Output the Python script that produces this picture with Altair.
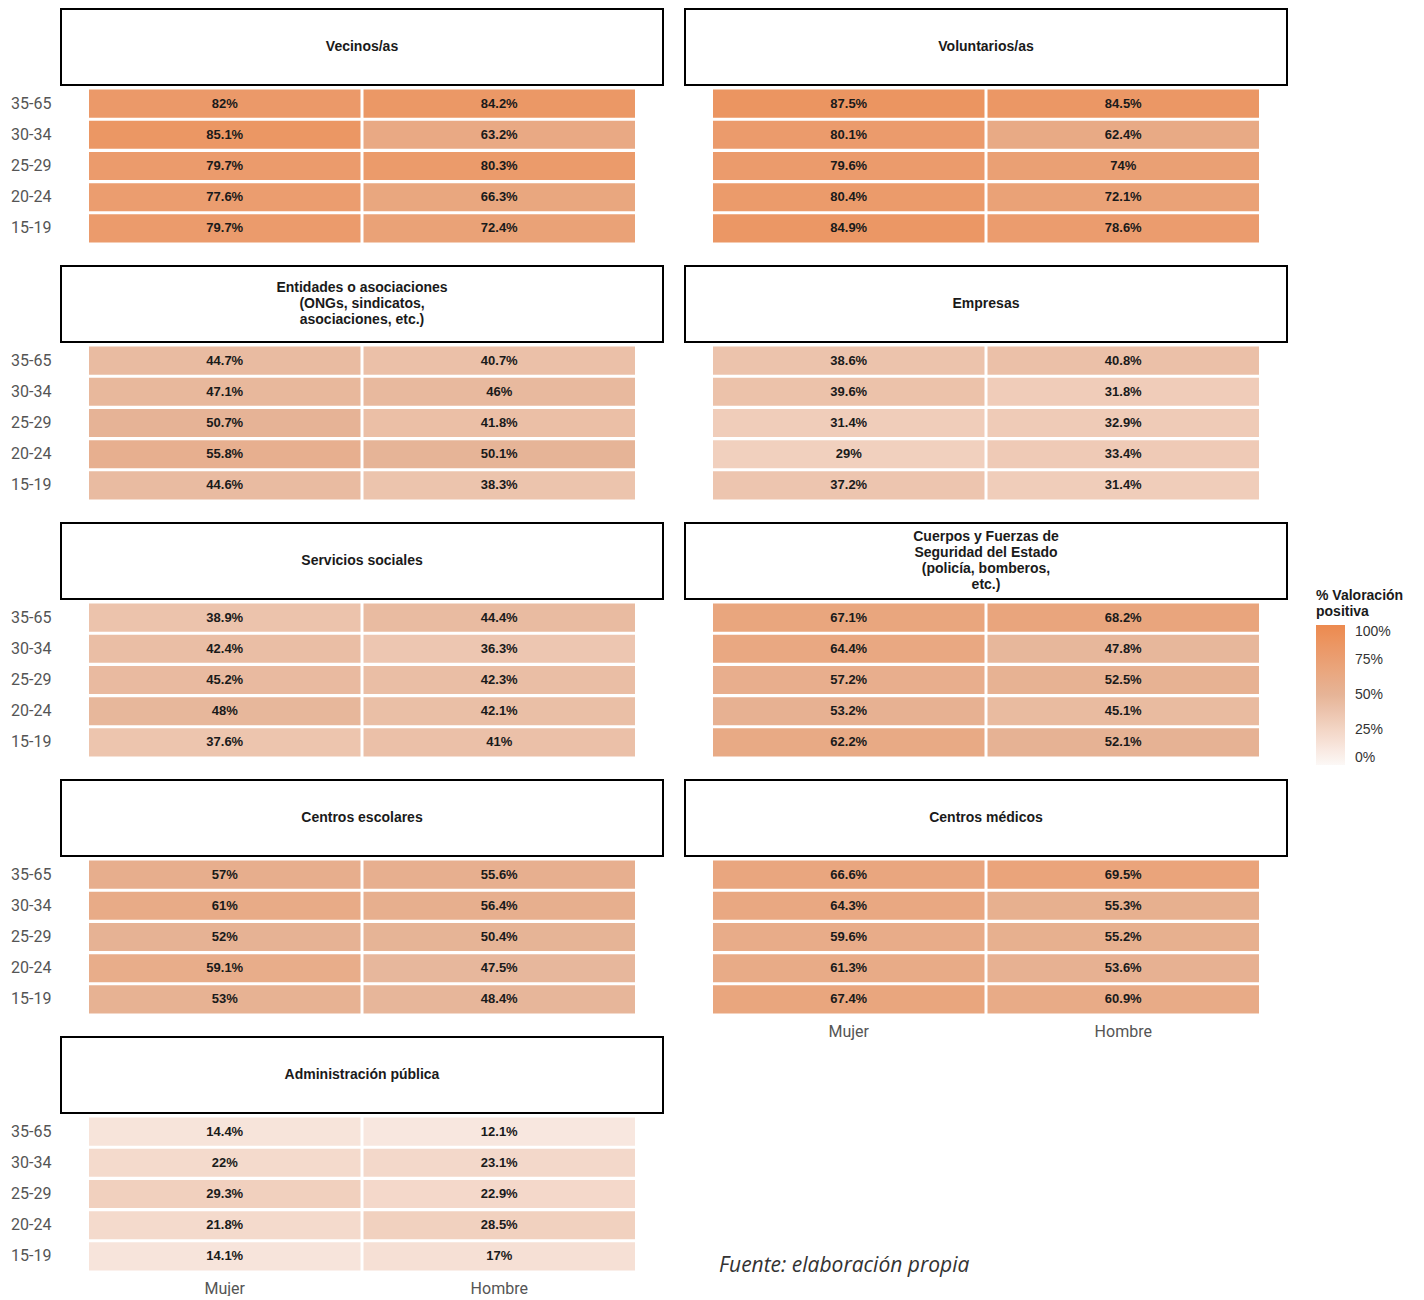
import altair as alt
import pandas as pd

# ---------------- data ----------------
ages = ["35-65", "30-34", "25-29", "20-24", "15-19"]
sexes = ["Mujer", "Hombre"]

titles = [
    "Vecinos/as",
    "Voluntarios/as",
    "Entidades o asociaciones\n(ONGs, sindicatos,\nasociaciones, etc.)",
    "Empresas",
    "Servicios sociales",
    "Cuerpos y Fuerzas de\nSeguridad del Estado\n(policía, bomberos,\netc.)",
    "Centros escolares",
    "Centros médicos",
    "Administración pública",
]

# values ordered as ages (35-65 ... 15-19)
mujer = [
    [82, 85.1, 79.7, 77.6, 79.7],
    [87.5, 80.1, 79.6, 80.4, 84.9],
    [44.7, 47.1, 50.7, 55.8, 44.6],
    [38.6, 39.6, 31.4, 29, 37.2],
    [38.9, 42.4, 45.2, 48, 37.6],
    [67.1, 64.4, 57.2, 53.2, 62.2],
    [57, 61, 52, 59.1, 53],
    [66.6, 64.3, 59.6, 61.3, 67.4],
    [14.4, 22, 29.3, 21.8, 14.1],
]
hombre = [
    [84.2, 63.2, 80.3, 66.3, 72.4],
    [84.5, 62.4, 74, 72.1, 78.6],
    [40.7, 46, 41.8, 50.1, 38.3],
    [40.8, 31.8, 32.9, 33.4, 31.4],
    [44.4, 36.3, 42.3, 42.1, 41],
    [68.2, 47.8, 52.5, 45.1, 52.1],
    [55.6, 56.4, 50.4, 47.5, 48.4],
    [69.5, 55.3, 55.2, 53.6, 60.9],
    [12.1, 23.1, 22.9, 28.5, 17],
]

legend_values = [0, 25, 50, 75, 100]
legend_title = ["% Valoración", "positiva"]
source_text = "Fuente: elaboración propia"

# ---------------- styling ----------------
COLOR_DOMAIN = [0, 50, 100]
COLOR_RANGE = ["#FCF8F6", "#E6B497", "#EC8A4F"]
PW = 602
HH = 76
PH = 156
LINE_H = 16
AXIS_FONT = "Roboto"
AXIS_COLOR = "#555555"


def color_enc():
    return alt.Color(
        "valor:Q",
        scale=alt.Scale(domain=COLOR_DOMAIN, range=COLOR_RANGE),
        legend=alt.Legend(
            title=legend_title,
            orient="none",
            legendX=1255,
            legendY=580,
            values=legend_values,
            labelExpr="datum.value + '%'",
            gradientLength=140,
            gradientThickness=29,
            gradientStrokeWidth=0,
            labelOffset=10,
            titleFont="Liberation Sans",
            titleFontWeight="bold",
            titleFontSize=14,
            titleColor="#1a1a1a",
            titleLineHeight=16,
            titlePadding=6,
            labelFont="Liberation Sans",
            labelFontSize=14,
            labelColor="#333333",
        ),
    )


def header(title):
    n_lines = title.count("\n") + 1
    df = pd.DataFrame({"t": [title]})
    box = alt.Chart(df).mark_rect(fill="white", stroke="black", strokeWidth=2).encode(
        x=alt.value(0), x2=alt.value(PW), y=alt.value(0), y2=alt.value(HH)
    )
    txt = alt.Chart(df).mark_text(
        font="Liberation Sans", fontWeight="bold", fontSize=14, lineBreak="\n",
        lineHeight=LINE_H, color="#1a1a1a", baseline="middle", align="center",
    ).encode(
        x=alt.value(PW / 2),
        y=alt.value(HH / 2 - (n_lines - 1) * LINE_H / 2),
        text="t:N",
    )
    return (box + txt).properties(width=PW, height=HH)


def heat(i, show_y, show_x):
    df = pd.DataFrame({
        "edad": ages * 2,
        "sexo": ["Mujer"] * 5 + ["Hombre"] * 5,
        "valor": mujer[i] + hombre[i],
    })
    df["etiqueta"] = df["valor"].map(lambda v: f"{v:g}%")
    if show_y:
        yax = alt.Axis(title=None, ticks=False, domain=False, labelFont=AXIS_FONT,
                       labelFontSize=16, labelColor=AXIS_COLOR, labelPadding=10)
    else:
        yax = None
    if show_x:
        xax = alt.Axis(title=None, ticks=False, domain=False, labelFont=AXIS_FONT,
                       labelFontSize=16, labelColor=AXIS_COLOR, labelPadding=8,
                       labelAngle=0)
    else:
        xax = None
    base = alt.Chart(df).encode(
        x=alt.X("sexo:N", sort=sexes,
                scale=alt.Scale(domain=sexes, paddingInner=0.011, paddingOuter=0.102),
                axis=xax),
        y=alt.Y("edad:N", sort=ages,
                scale=alt.Scale(domain=ages, paddingInner=0.1, paddingOuter=0.05),
                axis=yax),
    )
    rect = base.mark_rect().encode(color=color_enc())
    text = base.mark_text(font="Liberation Sans", fontWeight="bold", fontSize=13,
                          color="#1a1a1a").encode(text="etiqueta:N")
    return (rect + text).properties(width=PW, height=PH)


def panel(i, show_y, show_x):
    return alt.vconcat(header(titles[i]), heat(i, show_y, show_x), spacing=2)


SP = 21

left = alt.vconcat(
    panel(0, True, False),
    panel(2, True, False),
    panel(4, True, False),
    panel(6, True, False),
    panel(8, True, True),
    spacing=SP,
)

src = alt.Chart(pd.DataFrame({"t": [source_text]})).mark_text(
    font="Open Sans", fontStyle="italic", fontSize=21, align="left",
    baseline="middle", color="#333333",
).encode(x=alt.value(34), y=alt.value(206), text="t:N").properties(width=PW, height=220)

right = alt.vconcat(
    panel(1, False, False),
    panel(3, False, False),
    panel(5, False, False),
    panel(7, False, True),
    src,
    spacing=SP,
)

chart = (
    alt.hconcat(left, right, spacing=20)
    .resolve_scale(color="shared")
    .properties(padding={"left": 2, "top": 0, "right": 0, "bottom": 0})
    .configure_view(strokeWidth=0)
)

chart.save("out.html", embed_options={"renderer": "svg", "actions": False})
